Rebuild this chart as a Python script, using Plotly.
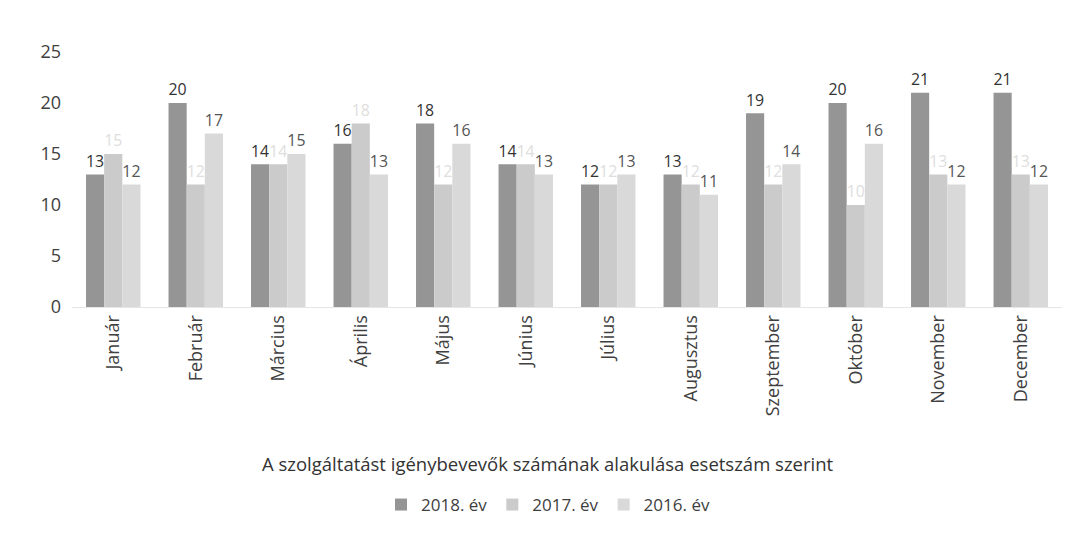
import plotly.graph_objects as go

months = ["Január", "Február", "Március", "Április", "Május", "Június",
          "Július", "Augusztus", "Szeptember", "Október", "November", "December"]
series_names = ["2018. év", "2017. év", "2016. év"]
v2018 = [13, 20, 14, 16, 18, 14, 12, 13, 19, 20, 21, 21]
v2017 = [15, 12, 14, 18, 12, 14, 12, 12, 12, 10, 13, 13]
v2016 = [12, 17, 15, 13, 16, 13, 13, 11, 14, 16, 12, 12]
y_ticks = [0, 5, 10, 15, 20, 25]
title_text = "A szolgáltatást igénybevevők számának alakulása esetszám szerint"

colors = ["#959595", "#cbcbcb", "#d9d9d9"]
label_colors = ["#333333", "#dedede", "#555555"]
FONT = "Open Sans"

# page body has an 8px offset; compensate
OFF = 8
W, H = 1086, 539
L, T = 72 - OFF, 52 - OFF
PW, PH = 990, 255
R, B = W - L - PW, H - T - PH

fig = go.Figure()
for name, vals, c, lc in zip(series_names, [v2018, v2017, v2016], colors, label_colors):
    fig.add_trace(go.Bar(
        x=months, y=vals, name=name,
        marker=dict(color=c, line=dict(width=0)),
        text=[str(v) for v in vals], textposition="outside",
        textfont=dict(family=FONT, size=17, color=lc),
        cliponaxis=False,
    ))

fig.update_layout(
    width=W, height=H,
    paper_bgcolor="white", plot_bgcolor="white",
    barmode="group", bargap=0.34, bargroupgap=0.0,
    margin=dict(l=L, r=R, t=T, b=B, autoexpand=False),
    font=dict(family=FONT, color="#404040"),
    showlegend=True,
    legend=dict(orientation="h", x=(548 - OFF) / W, xanchor="center", xref="container",
                y=(H - (505 - OFF)) / H, yref="container", yanchor="middle",
                font=dict(family=FONT, size=17, color="#404040"),
                itemwidth=30, traceorder="normal"),
)
fig.update_xaxes(
    tickangle=-90, tickfont=dict(family=FONT, size=18, color="#404040"),
    showline=True, linecolor="#e6e6e6", ticks="", showgrid=False,
    automargin=False,
)
fig.update_yaxes(
    range=[0, 25], tickvals=y_ticks, showgrid=False, zeroline=False,
    tickfont=dict(family=FONT, size=18, color="#404040"), ticks="",
    ticklabelstandoff=10, automargin=False,
)
fig.add_annotation(
    text=title_text, xref="paper", yref="paper",
    x=(548 - OFF - L) / PW, y=-((463 - OFF) - (T + PH)) / PH,
    xanchor="center", yanchor="middle", showarrow=False,
    font=dict(family=FONT, size=18.5, color="#333333"),
)
fig.write_html("out.html")
